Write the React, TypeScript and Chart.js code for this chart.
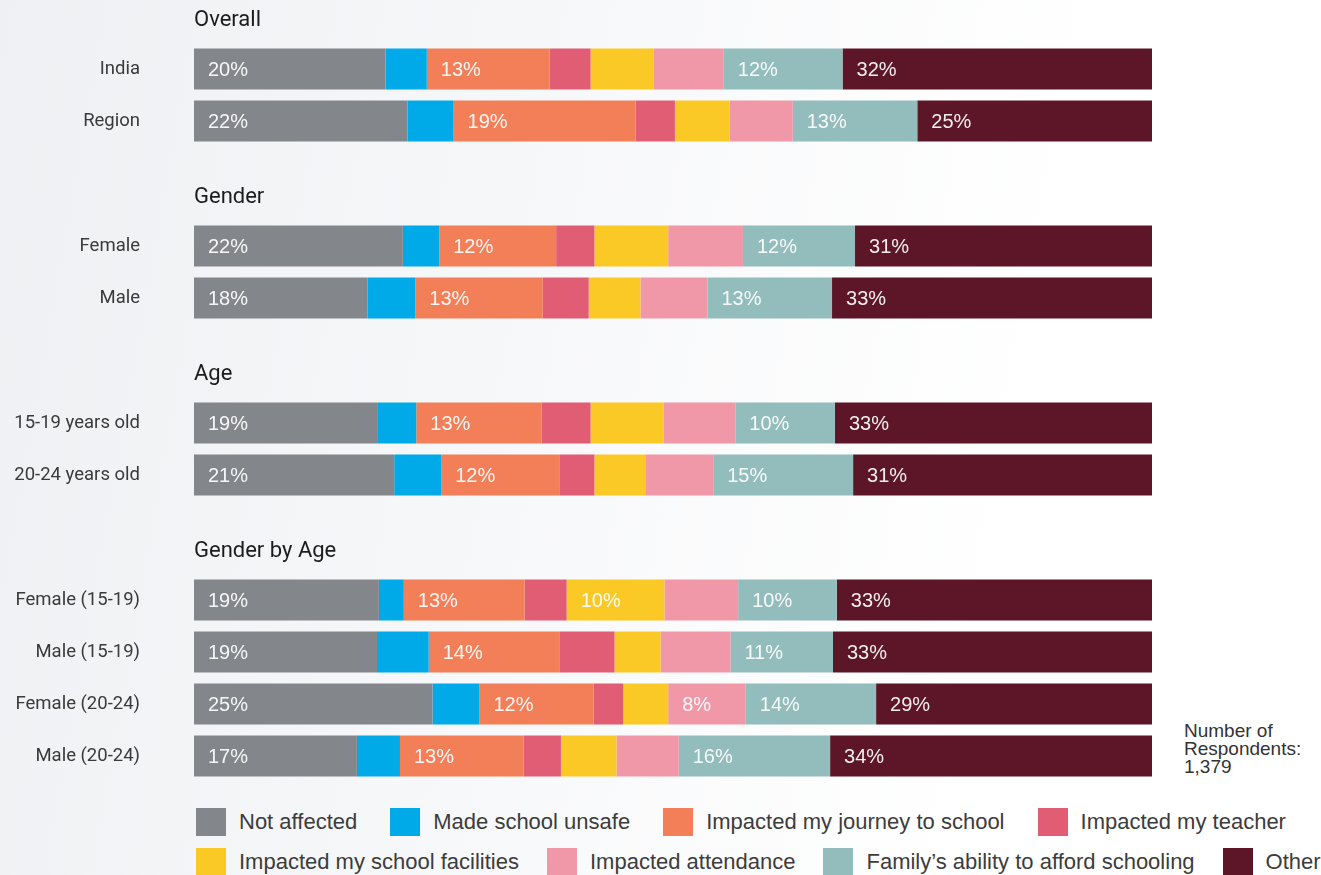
import React, { useEffect, useRef } from "react";
import { Chart, registerables } from "chart.js";

Chart.register(...registerables);

// ---------- data ----------
const groupTitles = ["Overall", "Gender", "Age", "Gender by Age"];
const groupRows = [
  ["India", "Region"],
  ["Female", "Male"],
  ["15-19 years old", "20-24 years old"],
  ["Female (15-19)", "Male (15-19)", "Female (20-24)", "Male (20-24)"],
];

const seriesNames = [
  "Not affected",
  "Made school unsafe",
  "Impacted my journey to school",
  "Impacted my teacher",
  "Impacted my school facilities",
  "Impacted attendance",
  "Family\u2019s ability to afford schooling",
  "Other",
];
const seriesColors = [
  "#83868b",
  "#00aae9",
  "#f27f58",
  "#e15d73",
  "#fbc926",
  "#f097a8",
  "#93bcbc",
  "#5c1628",
];

// values (%) in row order: India, Region, Female, Male, 15-19, 20-24,
// Female (15-19), Male (15-19), Female (20-24), Male (20-24)
const notAffected = [20.0, 22.3, 21.8, 18.1, 19.2, 20.9, 19.3, 19.1, 24.9, 17.0];
const madeSchoolUnsafe = [4.3, 4.8, 3.8, 5.0, 4.0, 4.9, 2.6, 5.4, 4.9, 4.5];
const journeyToSchool = [12.8, 19.0, 12.2, 13.3, 13.1, 12.4, 12.6, 13.7, 11.9, 12.9];
const impactedTeacher = [4.3, 4.1, 4.0, 4.8, 5.1, 3.6, 4.4, 5.7, 3.1, 3.9];
const schoolFacilities = [6.6, 5.7, 7.7, 5.4, 7.6, 5.3, 10.2, 4.8, 4.7, 5.8];
const attendance = [7.3, 6.6, 7.8, 7.0, 7.5, 7.1, 7.7, 7.3, 8.1, 6.5];
const familyAfford = [12.4, 13.0, 11.7, 13.0, 10.4, 14.6, 10.3, 10.7, 13.6, 15.8];
const other = [32.3, 24.5, 31.0, 33.4, 33.1, 31.2, 32.9, 33.3, 28.8, 33.6];

const seriesValues = [
  notAffected,
  madeSchoolUnsafe,
  journeyToSchool,
  impactedTeacher,
  schoolFacilities,
  attendance,
  familyAfford,
  other,
];

const respondentsNote = ["Number of", "Respondents:", "1,379"];
const LABEL_MIN = 8;

// ---------- styling ----------
const ROBOTO = "Roboto, 'Noto Sans', sans-serif";
const SANS = "'Liberation Sans', Arial, sans-serif";
const ROW_PX = 52;
const TITLE_PX = 39;
const TITLE_FONT = 22;

const barLabelPlugin = {
  id: "barLabels",
  afterDatasetsDraw(chart: any) {
    const ctx = chart.ctx;
    ctx.save();
    ctx.font = `20px ${SANS}`;
    ctx.fillStyle = "rgba(255,255,255,0.93)";
    ctx.textAlign = "left";
    ctx.textBaseline = "middle";
    chart.data.datasets.forEach((ds: any, di: number) => {
      const meta = chart.getDatasetMeta(di);
      meta.data.forEach((bar: any, i: number) => {
        const v = ds.data[i] as number;
        if (v >= LABEL_MIN) {
          const { x, y, base } = bar.getProps(["x", "y", "base"], true);
          ctx.fillText(`${Math.round(v)}%`, Math.min(x, base) + 14, y + 1);
        }
      });
    });
    ctx.restore();
  },
};

function GroupChart({ title, labels, offset }: { title: string; labels: string[]; offset: number }) {
  const ref = useRef<HTMLCanvasElement | null>(null);
  useEffect(() => {
    if (!ref.current) return;
    const chart = new Chart(ref.current, {
      type: "bar",
      data: {
        labels,
        datasets: seriesNames.map((name, si) => ({
          label: name,
          data: seriesValues[si].slice(offset, offset + labels.length),
          backgroundColor: seriesColors[si],
          borderWidth: 0,
          barPercentage: 41 / 52,
          categoryPercentage: 1,
        })),
      },
      options: {
        indexAxis: "y",
        animation: false,
        responsive: true,
        maintainAspectRatio: false,
        layout: { padding: 0 },
        plugins: {
          legend: { display: false },
          tooltip: { enabled: false },
          title: {
            display: true,
            text: title,
            align: "start",
            fullSize: false,
            color: "#1c1c1c",
            font: { family: ROBOTO, size: TITLE_FONT, weight: "normal", lineHeight: 1.2 },
            padding: { top: 3, bottom: TITLE_PX - 3 - TITLE_FONT * 1.2 },
          },
        },
        scales: {
          x: { stacked: true, min: 0, max: 100, display: false },
          y: {
            stacked: true,
            grid: { display: false, drawTicks: false },
            border: { display: false },
            ticks: {
              padding: 54,
              color: "#3a3a3a",
              font: { family: ROBOTO, size: 18.5, lineHeight: 1.0 },
            },
            afterFit: (scale: any) => {
              scale.width = 194;
              scale.paddingTop = 0;
              scale.paddingBottom = 0;
            },
          },
        },
      } as any,
      plugins: [barLabelPlugin],
    });
    return () => chart.destroy();
  }, [title, labels, offset]);

  return (
    <div style={{ position: "relative", width: 1152, height: TITLE_PX + ROW_PX * labels.length }}>
      <canvas ref={ref} />
    </div>
  );
}

export default function App() {
  const offsets = groupRows.map((_, g) => groupRows.slice(0, g).reduce((a, r) => a + r.length, 0));
  const legendRows = [seriesNames.slice(0, 4), seriesNames.slice(4)];
  const legendGaps = [33, 28];
  return (
    <div
      style={{
        position: "absolute",
        left: 0,
        top: 0,
        width: 1321,
        height: 875,
        overflow: "hidden",
        background: "linear-gradient(100deg, #eef0f3 0%, #f6f7f9 35%, #ffffff 75%)",
      }}
    >
      <div style={{ position: "absolute", left: 0, top: 4, display: "flex", flexDirection: "column", gap: 34 }}>
        {groupTitles.map((t, g) => (
          <GroupChart key={t} title={t} labels={groupRows[g]} offset={offsets[g]} />
        ))}
      </div>

      <div
        style={{
          position: "absolute",
          left: 1184,
          top: 722,
          font: `19px ${SANS}`,
          lineHeight: "18px",
          color: "#333",
        }}
      >
        {respondentsNote.map((l) => (
          <div key={l}>{l}</div>
        ))}
      </div>

      <div style={{ position: "absolute", left: 196, top: 808 }}>
        {legendRows.map((row, r) => (
          <div
            key={r}
            style={{ display: "flex", columnGap: legendGaps[r], height: 28, marginBottom: 12, whiteSpace: "nowrap" }}
          >
            {row.map((name) => {
              const si = seriesNames.indexOf(name);
              return (
                <div key={name} style={{ display: "flex", alignItems: "center" }}>
                  <span
                    style={{ display: "inline-block", width: 30, height: 28, background: seriesColors[si], marginRight: 13 }}
                  />
                  <span style={{ font: `22px ${SANS}`, color: "#3c3c3c" }}>{name}</span>
                </div>
              );
            })}
          </div>
        ))}
      </div>
    </div>
  );
}
